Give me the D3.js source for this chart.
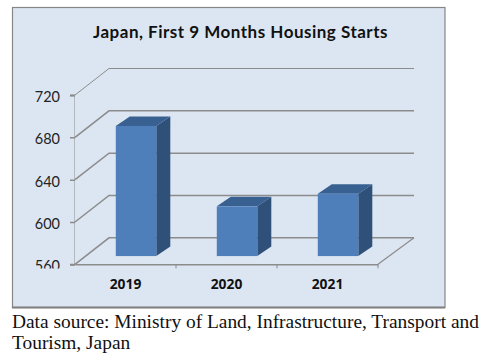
<!DOCTYPE html>
<meta charset="utf-8">
<style>
  html, body { margin: 0; padding: 0; background: #fff; }
</style>

<!-- Load d3.js -->
<script src="https://d3js.org/d3.v7.min.js"></script>

<div id="my_dataviz"></div>

<script>
    // values
    var years = ["2019", "2020", "2021"];
    var starts = [683, 607, 619];
    var yTicks = [560, 600, 640, 680, 720];
    var titleText = "Japan, First 9 Months Housing Starts";
    var sourceLines = ["Data source: Ministry of Land, Infrastructure, Transport and", "Tourism, Japan"];

    var svg = d3.select("#my_dataviz")
      .append("svg")
        .attr("width", 489)
        .attr("height", 358)
        .style("display", "block");

    // chart panel
    svg.append("rect")
        .attr("x", 12.5)
        .attr("y", 7.5)
        .attr("width", 432.5)
        .attr("height", 300)
        .attr("fill", "#dce6f2")
        .attr("stroke", "#868686")
        .attr("stroke-width", 1.2);
    svg.append("line")
        .attr("x1", 12).attr("x2", 445)
        .attr("y1", 307.5).attr("y2", 307.5)
        .attr("stroke", "#808080")
        .attr("stroke-width", 2);

    svg.append("text")
        .attr("x", 240.5)
        .attr("y", 38)
        .attr("text-anchor", "middle")
        .attr("font-family", "Lato, sans-serif")
        .attr("font-weight", "bold")
        .attr("font-size", 17)
        .attr("letter-spacing", 0.5)
        .attr("fill", "#111")
        .text(titleText);

    // scales, front plane of the fake 3d box
    var x = d3.scaleBand().domain(years).range([75, 378]);
    var y = d3.scaleLinear().domain([560, 720]).range([264.3, 95]);

    // depth of the box
    var depthX = 34, depthY = -26.5;
    var barWidth = 40.5;

    // floor and grid lines, side wall then back wall
    var grid = svg.append("g").attr("fill", "none").attr("stroke", "#8c8c8c");
    yTicks.forEach(function(t) {
      grid.append("path")
        .attr("stroke-width", t == 720 ? 1 : 1.5)
        .attr("d", d3.line()([
          [x.range()[0], y(t)],
          [x.range()[0] + depthX, y(t) + depthY],
          [x.range()[1] + 2 + depthX, y(t) + depthY]
        ]));
    });
    grid.append("path")
        .attr("stroke-width", 1.2)
        .attr("d", d3.line()([
          [x.range()[1], y(560)],
          [x.range()[1] + 2 + depthX, y(560) + depthY]
        ]));

    // bars
    var barOffset = 0.31, barDepthX = 14, barDepthY = -9.5;
    var bars = svg.append("g").selectAll("g")
      .data(years.map(function(d, i) { return {year: d, value: starts[i]}; }))
      .enter().append("g");

    function barBox(d) {
      var cx = x(d.year) + x.bandwidth() / 2 + barOffset * depthX;
      return {
        left: cx - barWidth / 2,
        right: cx + barWidth / 2,
        top: y(d.value) + barOffset * depthY,
        bottom: y(560) + barOffset * depthY
      };
    }

    // side face
    bars.append("path")
      .attr("fill", "#2f5078")
      .attr("d", function(d) {
        var b = barBox(d);
        return d3.line()([
          [b.right, b.top], [b.right + barDepthX, b.top + barDepthY],
          [b.right + barDepthX, b.bottom + barDepthY], [b.right, b.bottom]
        ]) + "Z";
      });
    // top face
    bars.append("path")
      .attr("fill", "#386090")
      .attr("d", function(d) {
        var b = barBox(d);
        return d3.line()([
          [b.left, b.top], [b.left + barDepthX, b.top + barDepthY],
          [b.right + barDepthX, b.top + barDepthY], [b.right, b.top]
        ]) + "Z";
      });
    // front face
    bars.append("rect")
      .attr("fill", "#4f7fba")
      .attr("x", function(d) { return barBox(d).left; })
      .attr("y", function(d) { return barBox(d).top; })
      .attr("width", barWidth)
      .attr("height", function(d) { var b = barBox(d); return b.bottom - b.top; });

    // the 560 label is cut off at the bottom in the original
    svg.append("clipPath").attr("id", "tickClip")
      .append("rect").attr("x", -75).attr("y", 80).attr("width", 75).attr("height", 188.5);

    // Y axis
    var yAxis = svg.append("g")
        .attr("transform", "translate(75,0)")
        .attr("clip-path", "url(#tickClip)")
        .call(d3.axisLeft(y).tickValues(yTicks).tickSize(5).tickPadding(10).tickFormat(d3.format("d")));
    yAxis.select(".domain").attr("stroke", "#8c8c8c").attr("stroke-width", 2);
    yAxis.selectAll(".tick line").attr("stroke", "#8c8c8c").attr("stroke-width", 1.5);
    yAxis.selectAll("text")
        .attr("font-family", "Lato, sans-serif")
        .attr("font-size", 14.5)
        .attr("fill", "#222")
        .attr("dy", "0.44em");

    // X axis
    var xAxis = svg.append("g")
        .attr("transform", "translate(0," + y(560) + ")")
        .call(d3.axisBottom(x).tickSize(0).tickPadding(15));
    xAxis.select(".domain").attr("stroke", "#8c8c8c").attr("stroke-width", 1.5);
    xAxis.selectAll("text")
        .attr("font-family", "'Open Sans', sans-serif")
        .attr("font-weight", "bold")
        .attr("font-size", 13.8)
        .attr("fill", "#111");
    // ticks sit between the categories
    xAxis.selectAll(".between")
      .data(years)
      .enter().append("line")
        .attr("class", "between")
        .attr("x1", function(d) { return x(d) + x.bandwidth(); })
        .attr("x2", function(d) { return x(d) + x.bandwidth(); })
        .attr("y1", 0)
        .attr("y2", 4)
        .attr("stroke", "#8c8c8c");

    // source note below the panel
    svg.selectAll(".source")
      .data(sourceLines)
      .enter().append("text")
        .attr("class", "source")
        .attr("x", 12)
        .attr("y", function(d, i) { return 327.5 + i * 21.7; })
        .attr("font-family", "'Liberation Serif', serif")
        .attr("font-size", 19.4)
        .attr("fill", "#111")
        .text(function(d) { return d; });
</script>
